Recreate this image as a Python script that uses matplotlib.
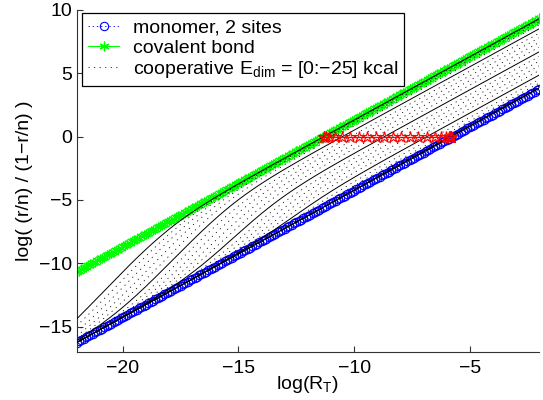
import numpy as np
import matplotlib
matplotlib.use("Agg")
import matplotlib.pyplot as plt

# ---------------- data ----------------
log_RT = np.linspace(-22, -2, 201)          # x grid, log(R_T)
monomer_offset = 5.75                        # blue line: y = log(R_T) + 5.75
covalent_offset = 11.33                      # green line: y = log(R_T) + 11.33
E_dim = list(range(0, -26, -1))              # kcal, 0 .. -25
E_solid = [0, -5, -10, -15, -20, -25]        # drawn as solid black curves
lnK_at_0, lnK_per_kcal = 6.2, 0.70           # onset position of each curve
lnW_at_0, lnW_per_kcal = -2.6, 0.37          # upper plateau of each curve
lnW_floor = 0.08                             # smallest plateau above monomer

x_ticks = [-20, -15, -10, -5]
y_ticks = [-15, -10, -5, 0, 5, 10]

# ---------------- style ----------------
plt.rcParams["font.family"] = ["Liberation Sans", "DejaVu Sans"]
plt.rcParams["mathtext.default"] = "regular"
plt.rcParams["lines.scale_dashes"] = False
FS = 14

fig = plt.figure(figsize=(5.43, 4.0), dpi=100)
ax = fig.add_axes([0.141, 0.12, 0.852, 0.855])

y_mono = log_RT + monomer_offset
y_cov = log_RT + covalent_offset

ax.plot(log_RT, y_mono, color="blue", linestyle=(0, (1, 2)), lw=0.6,
        marker="o", ms=6, mfc="none", mec="blue", mew=0.8,
        label="monomer, 2 sites", zorder=2)
ax.plot(log_RT, y_cov, color=(0, 1, 0), linestyle="-", lw=0.8,
        marker=(6, 2, 0), ms=7, mec=(0, 1, 0), mew=0.9,
        label="covalent bond", zorder=2)

a = monomer_offset
top = covalent_offset - monomer_offset
cross_x = []
first_dotted = True
for E in E_dim:
    lnK = lnK_at_0 + lnK_per_kcal * (-E)
    lnW = lnW_at_0 + lnW_per_kcal * (-E)
    # soft clamp of plateau between monomer and covalent lines
    lnW = lnW_floor + np.logaddexp(0, 3 * (lnW - lnW_floor)) / 3
    lnW = -np.logaddexp(-3 * lnW, -3 * top) / 3
    t = log_RT + lnK
    y = log_RT + a + np.logaddexp(0, t) - np.logaddexp(0, t - lnW)
    if E in E_solid:
        ax.plot(log_RT, y, color="black", lw=0.7, zorder=3)
    else:
        ax.plot(log_RT, y, color="black", lw=0.6, linestyle=(0, (0.8, 3.2)),
                zorder=3,
                label=("cooperative E$_{dim}$ = [0:\u221225] kcal"
                       if first_dotted else None))
        first_dotted = False
    cross_x.append(np.interp(0.0, y, log_RT))

ax.plot(cross_x, np.zeros(len(cross_x)), color="red", lw=1.0,
        marker="*", ms=9, mfc="none", mec="red", mew=0.8, zorder=4)

ax.set_xlim(-22, -2)
ax.set_ylim(-17, 10)
ax.set_xticks(x_ticks)
ax.set_yticks(y_ticks)
for s in ["top", "right"]:
    ax.spines[s].set_visible(False)
for s in ["left", "bottom"]:
    ax.spines[s].set_linewidth(0.8)
    ax.spines[s].set_color("#333333")
ax.tick_params(direction="in", length=4, width=0.8, labelsize=FS,
               colors="#333333", labelcolor="black")
ax.tick_params(axis="x", pad=6)
ax.tick_params(axis="y", pad=3)

ax.set_xlabel("log(R$_T$)", fontsize=FS)
ax.set_ylabel("log( (r/n) / (1\u2212r/n) )", fontsize=FS)
ax.xaxis.set_label_coords(0.5, -0.065)
ax.yaxis.set_label_coords(-0.095, 0.5)

leg = ax.legend(loc="upper left", bbox_to_anchor=(0.012, 0.99),
                borderaxespad=0, fontsize=FS, handlelength=1.6,
                handletextpad=0.7, labelspacing=0.12, borderpad=0.3,
                fancybox=False, framealpha=1, edgecolor="black")
leg.get_frame().set_linewidth(0.9)

fig.savefig("out.png", dpi=100)
